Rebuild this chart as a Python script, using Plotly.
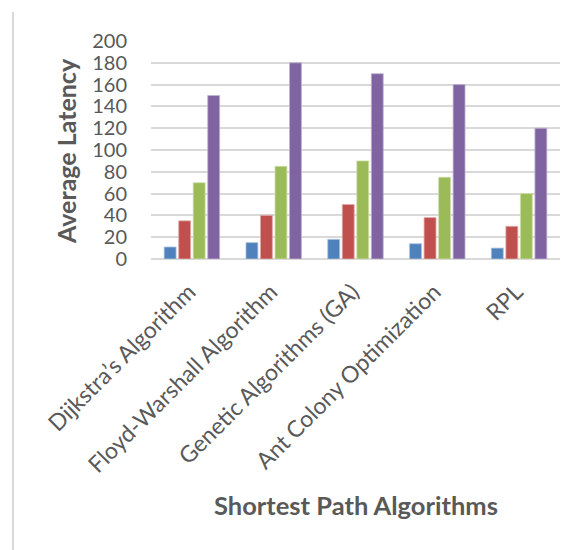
import plotly.graph_objects as go

# Average latency per shortest-path algorithm, four measurement series
algorithms = [
    "Dijkstra’s Algorithm",
    "Floyd-Warshall Algorithm",
    "Genetic Algorithms (GA)",
    "Ant Colony Optimization",
    "RPL",
]
series_1 = [11, 15, 18, 14, 10]
series_2 = [35, 40, 50, 38, 30]
series_3 = [70, 85, 90, 75, 60]
series_4 = [150, 180, 170, 160, 120]

y_ticks = [0, 20, 40, 60, 80, 100, 120, 140, 160, 180, 200]

colors = ["#4F81BD", "#C0504D", "#9BBB59", "#8064A2"]
edges = ["#A7C0DE", "#E0A8A6", "#CDDDAC", "#BFB1D0"]
all_series = [series_1, series_2, series_3, series_4]

FONT = "Lato"
TEXT = "#595959"

fig = go.Figure()
for vals, c, e in zip(all_series, colors, edges):
    fig.add_trace(go.Bar(
        x=algorithms, y=vals,
        marker=dict(color=c, line=dict(color=e, width=0.8)),
        showlegend=False,
    ))

W, H = 581, 550
ml, mr, mt, mb = 151, 21, 41, 291
pw, ph = W - ml - mr, H - mt - mb

fig.update_layout(
    width=W, height=H,
    margin=dict(l=ml, r=mr, t=mt, b=mb, pad=0),
    paper_bgcolor="white", plot_bgcolor="white",
    barmode="group", bargap=0.29, bargroupgap=0.18,
    font=dict(family=FONT, color=TEXT),
    xaxis=dict(
        tickangle=-45, tickfont=dict(size=23, color=TEXT, family=FONT),
        showgrid=False, showline=False, ticks="", ticklabelstandoff=14,
        ticklabelshift=-3,
    ),
    yaxis=dict(
        range=[0, 200], tickvals=y_ticks, ticktext=[str(v) for v in y_ticks],
        tickfont=dict(size=20, color=TEXT, family=FONT),
        showgrid=True, gridcolor="#D9D9D9", gridwidth=1.5,
        zeroline=True, zerolinecolor="#D9D9D9", zerolinewidth=1.5,
        showline=False, ticks="", ticklabelstandoff=23,
    ),
    annotations=[
        dict(text="<b>Average Latency</b>", textangle=-90,
             xref="paper", yref="paper",
             x=(66 - ml) / pw, y=(mt + ph - 151) / ph,
             xanchor="center", yanchor="middle", showarrow=False,
             font=dict(size=25, color=TEXT, family=FONT)),
        dict(text="<b>Shortest Path Algorithms</b>",
             xref="paper", yref="paper",
             x=(356 - ml) / pw, y=(mt + ph - 505) / ph,
             xanchor="center", yanchor="middle", showarrow=False,
             font=dict(size=25.5, color=TEXT, family=FONT)),
    ],
    shapes=[
        dict(type="line", xref="paper", yref="paper",
             x0=(13 - ml) / pw, x1=(13 - ml) / pw,
             y0=(mt + ph - 12) / ph, y1=(mt + ph - 551) / ph,
             line=dict(color="#D9D9D9", width=2)),
    ],
)

fig.write_html("out.html")
